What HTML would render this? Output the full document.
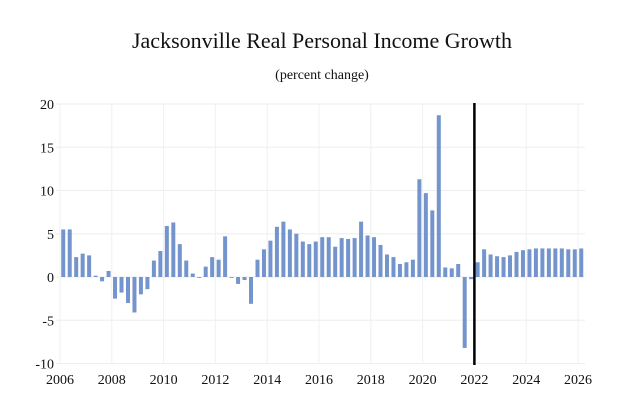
<!DOCTYPE html>
<html><head><meta charset="utf-8"><style>
body{margin:0;background:#fff}
svg{display:block;font-family:"Liberation Serif",serif}
</style></head><body>
<svg id="chart" width="627" height="415" viewBox="0 0 627 415">
<text x="322" y="48" text-anchor="middle" font-size="22" fill="#111">Jacksonville Real Personal Income Growth</text>
<text x="322" y="79" text-anchor="middle" font-size="14" fill="#111">(percent change)</text>
<g id="grid"></g><g id="bars"></g><g id="axes"></g>
</svg>
<script>
const startYear = 2006;
const values = [5.5,5.5,2.3,2.7,2.5,0.15,-0.5,0.7,-2.5,-1.8,-3.0,-4.1,-2.0,-1.4,1.9,3.0,5.9,6.3,3.8,1.9,0.4,-0.1,1.2,2.3,2.0,4.7,-0.1,-0.8,-0.35,-3.1,2.0,3.2,4.2,5.8,6.4,5.5,5.0,4.1,3.8,4.1,4.6,4.6,3.5,4.5,4.4,4.5,6.4,4.8,4.6,3.7,2.6,2.3,1.5,1.7,2.0,11.3,9.7,7.7,18.7,1.1,1.0,1.5,-8.2,-0.25,1.7,3.2,2.6,2.4,2.3,2.5,2.9,3.1,3.2,3.3,3.3,3.3,3.3,3.3,3.2,3.2,3.3];
const yTicks = [-10,-5,0,5,10,15,20];
const xTicks = [2006,2008,2010,2012,2014,2016,2018,2020,2022,2024,2026];
const forecastStart = 2022;
const NS="http://www.w3.org/2000/svg";
function x(t){return 60+(t-2006)*25.9;}
function y(v){return 277-v*8.65;}
function mk(tag,attrs,parent){const e=document.createElementNS(NS,tag);for(const k in attrs)e.setAttribute(k,attrs[k]);document.getElementById(parent).appendChild(e);return e;}
yTicks.forEach(v=>{
  const l=mk('line',{x1:56,x2:585,y1:y(v),y2:y(v),stroke:'#eeeeee','stroke-width':1},'grid');
  
  
  const t=mk('text',{x:54,y:y(v)+5,'text-anchor':'end','font-size':14,fill:'#111'},'axes');
  t.textContent=v;
  
  
});
xTicks.forEach(yr=>{
  const l=mk('line',{x1:x(yr),x2:x(yr),y1:y(20),y2:y(-10),stroke:'#f0f0f0','stroke-width':1},'grid');
  
  
  const t=mk('text',{x:x(yr),y:384,'text-anchor':'middle','font-size':14,fill:'#111'},'axes');
  t.textContent=yr;
  
  
});
values.forEach((v,i)=>{
  const cx=x(startYear+(i+0.5)/4);
  const top=Math.min(y(v),y(0)),h=Math.max(Math.abs(y(v)-y(0)),0.8);
  const r=mk('rect',{x:cx-2,y:top,width:4,height:h,fill:'#7394cc'},'bars');
  
  
});
const fl=mk('line',{x1:x(forecastStart),x2:x(forecastStart),y1:103,y2:365,stroke:'#000','stroke-width':2.5},'axes');


</script>
</body></html>
